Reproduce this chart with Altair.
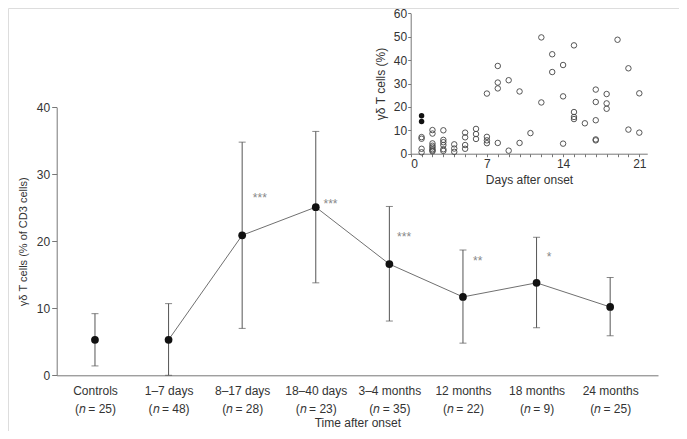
import altair as alt
import pandas as pd

# ---------------- main chart data ----------------
categories = ["Controls", "1–7 days", "8–17 days", "18–40 days",
              "3–4 months", "12 months", "18 months", "24 months"]
n_values = [25, 48, 28, 23, 35, 22, 9, 25]
mean_pct = [5.3, 5.3, 20.9, 25.1, 16.6, 11.7, 13.8, 10.2]
upper_pct = [9.2, 10.7, 34.8, 36.4, 25.2, 18.7, 20.6, 14.6]
lower_pct = [1.4, 0.0, 7.0, 13.8, 8.1, 4.8, 7.1, 5.9]

star_text = ["***", "***", "***", "**", "*"]
star_x = [2.24, 3.20, 4.20, 5.20, 6.17]
star_y = [26.7, 25.9, 20.9, 17.3, 17.9]

# ---------------- inset data ----------------
inset_day = [1, 1, 1, 1, 1, 1,
             2, 2, 2, 2, 2, 2, 2, 2,
             3, 3, 3, 3, 3, 3,
             4, 4, 4,
             5, 5, 5, 5,
             6, 6, 6,
             7, 7, 7, 7,
             8, 8, 8, 8,
             9, 9,
             10, 10,
             11,
             12, 12,
             13, 13,
             14, 14, 14,
             15, 15, 15, 15,
             16,
             17, 17, 17, 17, 17,
             18, 18, 18,
             19,
             20, 20,
             21, 21]
inset_pct = [16.2, 13.8, 7.1, 6.4, 2.1, 0.6,
             10.1, 8.6, 4.4, 3.4, 2.7, 1.9, 1.4, 1.0,
             10.0, 5.9, 4.9, 3.7, 1.9, 1.2,
             4.0, 2.2, 0.8,
             9.0, 7.0, 3.7, 2.1,
             10.6, 8.4, 6.3,
             25.7, 7.2, 5.7, 4.5,
             37.5, 30.4, 27.9, 4.6,
             31.4, 1.3,
             26.6, 4.6,
             8.8,
             49.7, 21.9,
             42.5, 34.9,
             37.9, 24.5, 4.3,
             46.3, 17.8, 15.7, 14.8,
             13.0,
             27.4, 22.1, 14.3, 6.1, 5.7,
             25.5, 21.5, 19.2,
             48.7,
             36.5, 10.3,
             25.8, 9.0]
inset_filled = [True, True] + [False] * (len(inset_day) - 2)

# ---------------- layout ----------------
W, H = 671, 423
FONT = "Liberation Sans"
TXT = "#333333"
AX = "#777777"

main_df = pd.DataFrame({
    "idx": list(range(len(categories))),
    "cat": categories,
    "n": n_values,
    "mean": mean_pct,
    "upper": upper_pct,
    "lower": lower_pct,
})
star_df = pd.DataFrame({"x": star_x, "y": star_y, "t": star_text})
inset_df = pd.DataFrame({"day": inset_day, "pct": inset_pct, "filled": inset_filled})

X0, X1 = 48.7, 650.0          # main x-axis line extent (px)
Y0, Y40 = 367.3, 99.3         # main y pixel for 0 and 40

cat_arr = "[" + ",".join("'" + c + "'" for c in categories) + "]"
n_arr = "[" + ",".join(str(v) for v in n_values) + "]"
label_expr = f"[{cat_arr}[datum.value], '(𝑛 = ' + {n_arr}[datum.value] + ')']"

main_x_scale = alt.Scale(domain=[-0.52, 7.65], range=[X0, X1], nice=False, zero=False)
main_y_scale = alt.Scale(domain=[0, 40], range=[Y0, Y40], nice=False, zero=False)

main_x_axis = alt.Axis(orient="bottom", offset=Y0 - H, values=list(range(8)),
                       ticks=False, labelExpr=label_expr, labelPadding=10,
                       labelLineHeight=18, labelFontSize=12, labelColor=TXT,
                       labelFont=FONT, labelBaseline="top",
                       domainColor=AX, grid=False,
                       title="Time after onset", titleFont=FONT, titleFontSize=12,
                       titleFontWeight="normal", titleColor=TXT, titlePadding=3)
main_y_axis = alt.Axis(orient="left", offset=-X0, values=[0, 10, 20, 30, 40],
                       tickSize=5, tickColor=AX, domainColor=AX, labelPadding=2,
                       labelFontSize=12, labelColor=TXT, labelFont=FONT, grid=False,
                       title="γδ T cells (% of CD3 cells)", titleFont=FONT,
                       titleFontSize=11, titleFontWeight="normal", titleColor=TXT,
                       titlePadding=8)

mx = alt.X("idx:Q", scale=main_x_scale, axis=main_x_axis)
my = alt.Y("mean:Q", scale=main_y_scale, axis=main_y_axis)

base = alt.Chart(main_df)
err = base.mark_rule(color="#555555", strokeWidth=1).encode(
    x=mx, y=alt.Y("lower:Q", scale=main_y_scale, axis=main_y_axis), y2="upper:Q")
cap_hi = base.mark_tick(orient="horizontal", size=7, thickness=1, color="#555555").encode(
    x=mx, y=alt.Y("upper:Q", scale=main_y_scale, axis=main_y_axis))
cap_lo = base.mark_tick(orient="horizontal", size=7, thickness=1, color="#555555").encode(
    x=mx, y=alt.Y("lower:Q", scale=main_y_scale, axis=main_y_axis))
# the connecting line joins the patient groups only (controls stand alone)
line = base.transform_filter("datum.idx > 0").mark_line(
    color="#707070", strokeWidth=1).encode(x=mx, y=my)
pts = base.mark_circle(size=60, color="#111111", opacity=1).encode(x=mx, y=my)
stars = alt.Chart(star_df).mark_text(fontSize=12, color="#888888", font=FONT,
                                      baseline="alphabetic", dy=6).encode(
    x=alt.X("x:Q", scale=main_x_scale, axis=main_x_axis),
    y=alt.Y("y:Q", scale=main_y_scale, axis=main_y_axis),
    text="t:N")

main = alt.layer(err, cap_hi, cap_lo, line, pts, stars)

# ---------------- inset ----------------
IX0, IX21 = 402.7, 631.3
IY0, IY60 = 145.7, 5.3
px_per_day = (IX21 - IX0) / 21
inset_x_scale = alt.Scale(domain=[0, 21.73], range=[IX0, IX0 + 21.73 * px_per_day],
                          nice=False, zero=False)
inset_y_scale = alt.Scale(domain=[0, 60], range=[IY0, IY60], nice=False, zero=False)
inset_x_axis = alt.Axis(orient="bottom", offset=IY0 - H, values=list(range(22)),
                        labelExpr="datum.value % 7 == 0 ? datum.label : ''",
                        tickSize=3, tickColor=AX, domainColor=AX, labelPadding=2,
                        labelFontSize=12, labelColor=TXT, labelFont=FONT, grid=False,
                        title="Days after onset", titleFont=FONT, titleFontSize=12,
                        titleFontWeight="normal", titleColor=TXT, titlePadding=5)
inset_y_axis = alt.Axis(orient="left", offset=-IX0, values=[0, 10, 20, 30, 40, 50, 60],
                        tickSize=3, tickColor=AX, domainColor=AX, labelPadding=1,
                        labelFontSize=12, labelColor=TXT, labelFont=FONT, grid=False,
                        title="γδ T cells (%)", titleFont=FONT, titleFontSize=12,
                        titleFontWeight="normal", titleColor=TXT, titlePadding=6)
ix = alt.X("day:Q", scale=inset_x_scale, axis=inset_x_axis)
iy = alt.Y("pct:Q", scale=inset_y_scale, axis=inset_y_axis)

ibase = alt.Chart(inset_df)
open_pts = ibase.transform_filter("!datum.filled").mark_point(
    shape="circle", filled=False, size=30, stroke="#444444", strokeWidth=0.9,
    opacity=1).encode(x=ix, y=iy)
filled_pts = ibase.transform_filter("datum.filled").mark_circle(
    size=30, color="#111111", opacity=1).encode(x=ix, y=iy)
inset = alt.layer(open_pts, filled_pts)

chart = alt.layer(main, inset).resolve_scale(x="independent", y="independent").properties(
    width=W, height=H, padding=0, autosize=alt.AutoSizeParams(type="none")
).configure_view(stroke=None).configure(background="white")

chart.save("out.html", embed_options={"renderer": "svg", "actions": False})
